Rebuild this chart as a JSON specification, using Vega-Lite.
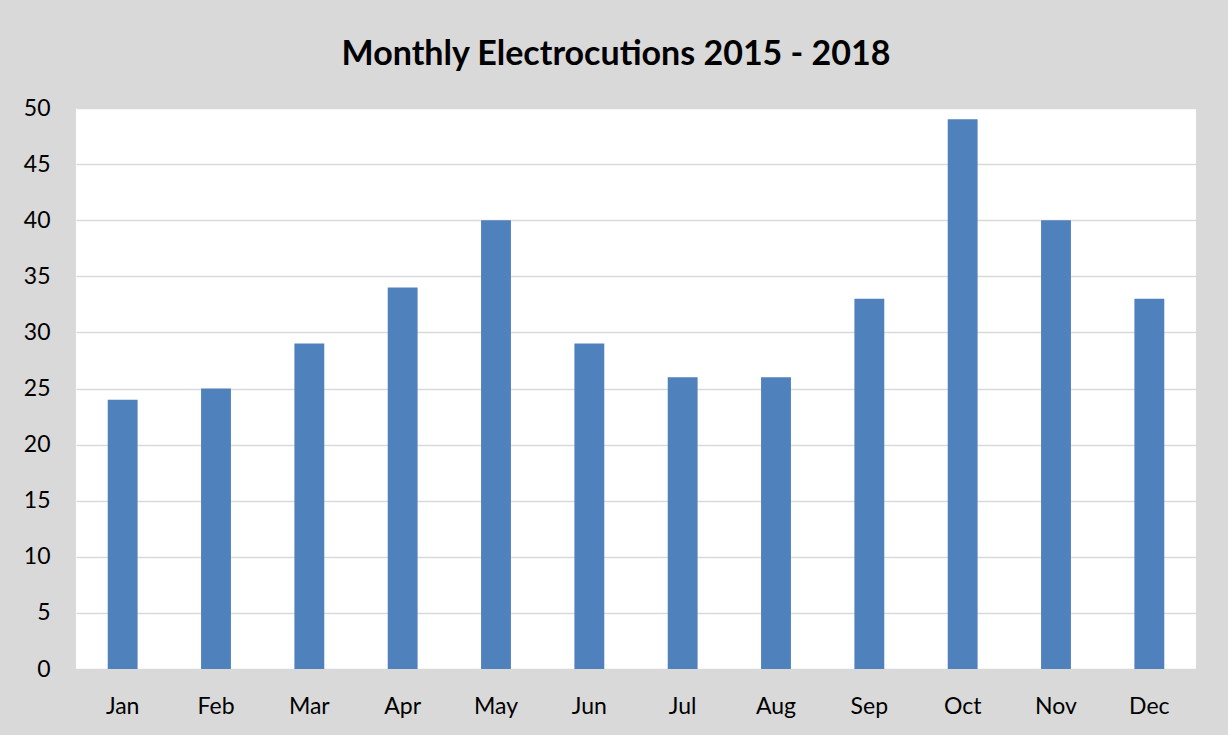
{
  "$schema": "https://vega.github.io/schema/vega-lite/v6.json",
  "width": 1120,
  "height": 561,
  "autosize": {"type": "none"},
  "padding": {"left": 76, "top": 108, "right": 32, "bottom": 66},
  "background": "#d9d9d9",
  "title": {
    "text": "Monthly Electrocutions 2015 - 2018",
    "font": "Lato",
    "fontSize": 34,
    "fontWeight": "bold",
    "color": "#000000",
    "anchor": "middle",
    "frame": "group",
    "dx": -20,
    "offset": 25
  },
  "data": {
    "values": [
      {"month": "Jan", "count": 24},
      {"month": "Feb", "count": 25},
      {"month": "Mar", "count": 29},
      {"month": "Apr", "count": 34},
      {"month": "May", "count": 40},
      {"month": "Jun", "count": 29},
      {"month": "Jul", "count": 26},
      {"month": "Aug", "count": 26},
      {"month": "Sep", "count": 33},
      {"month": "Oct", "count": 49},
      {"month": "Nov", "count": 40},
      {"month": "Dec", "count": 33}
    ]
  },
  "mark": {"type": "bar", "color": "#4f81bd"},
  "encoding": {
    "x": {
      "field": "month",
      "type": "nominal",
      "sort": null,
      "scale": {"paddingInner": 0.68, "paddingOuter": 0.34},
      "axis": {
        "title": null,
        "labelAngle": 0,
        "labelFont": "Lato",
        "labelFontSize": 23,
        "labelColor": "#000000",
        "labelPadding": 26,
        "ticks": false,
        "domain": false,
        "grid": false
      }
    },
    "y": {
      "field": "count",
      "type": "quantitative",
      "scale": {"domain": [0, 50], "nice": false},
      "axis": {
        "title": null,
        "values": [0, 5, 10, 15, 20, 25, 30, 35, 40, 45, 50],
        "labelFont": "Lato",
        "labelFontSize": 23,
        "labelColor": "#000000",
        "labelPadding": 26,
        "ticks": false,
        "domain": false,
        "gridColor": "#d9d9d9",
        "gridWidth": 1.5
      }
    }
  },
  "config": {
    "view": {"fill": "#ffffff", "stroke": null}
  }
}
